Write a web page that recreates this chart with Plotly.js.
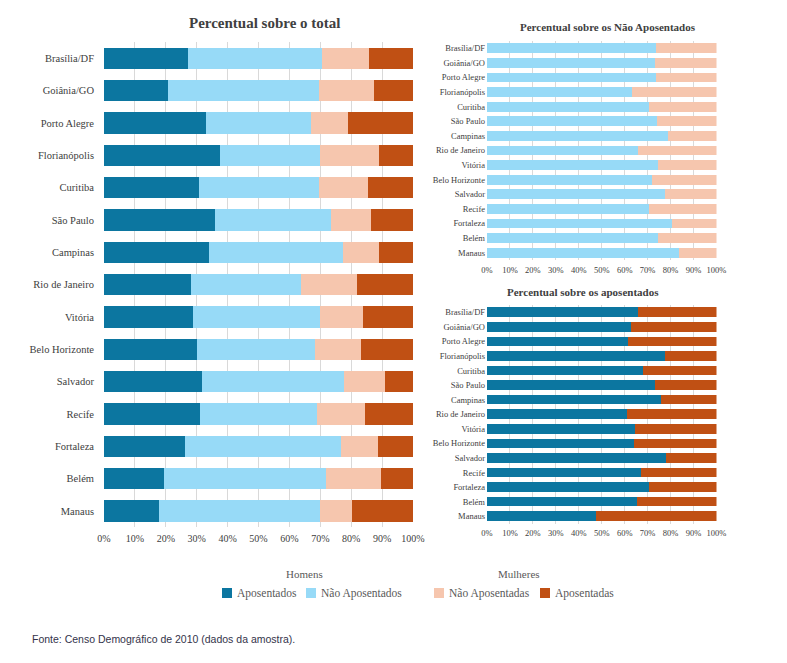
<!DOCTYPE html>
<html>
<head>
<meta charset="utf-8">
<script src="https://cdn.plot.ly/plotly-3.0.1.min.js"></script>
<style>
  html, body { margin: 0; padding: 0; background: #ffffff; }
  #chart { width: 787px; height: 663px; }
</style>
</head>
<body>
<div id="chart"></div>
<script>
(function () {
  "use strict";

  var CITIES = ["Brasília/DF", "Goiânia/GO", "Porto Alegre", "Florianópolis", "Curitiba", "São Paulo",
    "Campinas", "Rio de Janeiro", "Vitória", "Belo Horizonte", "Salvador", "Recife", "Fortaleza", "Belém", "Manaus"];

  // share of total (%), per city
  var HOM_APOS = [27.1, 20.6, 33.1, 37.5, 30.9, 36.0, 34.0, 28.3, 28.7, 30.1, 31.7, 31.1, 26.3, 19.4, 17.7];
  var HOM_NAO = [43.3, 49.1, 33.9, 32.4, 38.7, 37.4, 43.5, 35.5, 41.2, 38.2, 45.9, 37.7, 50.5, 52.3, 52.2];
  var MUL_NAO = [15.4, 17.8, 12.1, 19.0, 15.9, 13.1, 11.5, 18.1, 14.0, 14.9, 13.3, 15.8, 12.0, 17.9, 10.5];
  var MUL_APOS = [14.2, 12.5, 20.9, 11.1, 14.5, 13.5, 11.0, 18.1, 16.1, 16.8, 9.1, 15.4, 11.2, 10.4, 19.6];

  // share among the non-retired (%): men / women
  var NAO_HOM = [73.5, 73.2, 73.5, 63.2, 70.7, 74.1, 79.0, 65.8, 74.6, 71.9, 77.5, 70.7, 80.7, 74.6, 83.6];
  var NAO_MUL = [26.5, 26.8, 26.5, 36.8, 29.3, 25.9, 21.0, 34.2, 25.4, 28.1, 22.5, 29.3, 19.3, 25.4, 16.4];

  // share among the retired (%): men / women
  var APOS_HOM = [66.0, 62.8, 61.3, 77.6, 68.0, 73.0, 75.7, 61.0, 64.4, 64.0, 77.9, 67.0, 70.5, 65.4, 47.4];
  var APOS_MUL = [34.0, 37.2, 38.7, 22.4, 32.0, 27.0, 24.3, 39.0, 35.6, 36.0, 22.1, 33.0, 29.5, 34.6, 52.6];

  var TICKS = [0, 10, 20, 30, 40, 50, 60, 70, 80, 90, 100];
  var TICK_TEXT = TICKS.map(function (t) { return t + "%"; });

  // legend: group label, then entries [label, colour]
  var LEG_GROUPS = ["Homens", "Mulheres"];
  var LEG_ITEMS = [["Aposentados", "Não Aposentados"], ["Não Aposentadas", "Aposentadas"]];

  var C_APOS = "#0c76a0", C_NAO = "#97daf7", C_NAO_F = "#f6c6ae", C_APOS_F = "#c05014";
  var LEG_COLORS = [[C_APOS, C_NAO], [C_NAO_F, C_APOS_F]];
  var SERIF = "Liberation Serif, DejaVu Serif, serif";
  var INK = "#404040", GRID = "#d9d9d9", LEG_INK = "#595959";

  function bar(name, vals, color, xa, ya) {
    return {
      type: "bar", orientation: "h", name: name, x: vals, y: CITIES,
      xaxis: xa, yaxis: ya, marker: { color: color, line: { width: 0 } },
      showlegend: false,
      hovertemplate: "%{y}: %{x:.1f}%<extra>" + name + "</extra>"
    };
  }

  var traces = [
    bar("Aposentados", HOM_APOS, C_APOS, "x", "y"),
    bar("Não Aposentados", HOM_NAO, C_NAO, "x", "y"),
    bar("Não Aposentadas", MUL_NAO, C_NAO_F, "x", "y"),
    bar("Aposentadas", MUL_APOS, C_APOS_F, "x", "y"),
    bar("Não Aposentados", NAO_HOM, C_NAO, "x2", "y2"),
    bar("Não Aposentadas", NAO_MUL, C_NAO_F, "x2", "y2"),
    bar("Aposentados", APOS_HOM, C_APOS, "x3", "y3"),
    bar("Aposentadas", APOS_MUL, C_APOS_F, "x3", "y3")
  ];

  function xax(domain, size, anchor, standoff) {
    return {
      domain: domain, anchor: anchor, range: [0, 100], tickvals: TICKS, ticktext: TICK_TEXT,
      showgrid: true, gridcolor: GRID, gridwidth: 1, zeroline: false, showline: false,
      ticks: "", ticklabelstandoff: standoff,
      tickfont: { family: SERIF, size: size, color: INK }, automargin: false, fixedrange: true
    };
  }
  function yax(domain, size, anchor, standoff) {
    return {
      domain: domain, anchor: anchor, autorange: "reversed", type: "category",
      showgrid: false, zeroline: false, showline: false, ticks: "", ticklabelstandoff: standoff,
      tickfont: { family: SERIF, size: size, color: INK }, automargin: false, fixedrange: true
    };
  }

  var W = 787, H = 663;
  function px(x) { return x / W; }
  function py(y) { return 1 - y / H; }

  function note(text, x, y, font, xanchor) {
    return { text: text, x: px(x), y: py(y), xref: "paper", yref: "paper", showarrow: false,
      xanchor: xanchor || "center", yanchor: "middle", font: font };
  }
  function titleFont(s) { return { family: SERIF, size: s, color: INK, weight: "bold" }; }
  var legFont = { family: SERIF, size: 11.5, color: LEG_INK };

  var annotations = [
    note("Percentual sobre o total", 265, 23, titleFont(15)),
    note("Percentual sobre os Não Aposentados", 608, 27, titleFont(11)),
    note("Percentual sobre os aposentados", 583, 292, titleFont(11)),
    note("Fonte: Censo Demográfico de 2010 (dados da amostra).", 30, 639,
      { family: "Liberation Sans, Arial, sans-serif", size: 10.5, color: "#33334a" }, "left")
  ];
  var shapes = [];

  // hand-built legend: two groups, each with a caption and swatch + label entries
  var GROUP_CAPTION_X = [304, 519];
  var ITEM_X = [[222, 306], [434, 540]];
  LEG_GROUPS.forEach(function (g, gi) {
    annotations.push(note(g, GROUP_CAPTION_X[gi], 574, { family: SERIF, size: 11, color: LEG_INK }));
    LEG_ITEMS[gi].forEach(function (label, ii) {
      var x0 = ITEM_X[gi][ii];
      shapes.push({ type: "rect", xref: "paper", yref: "paper",
        x0: px(x0), x1: px(x0 + 10), y0: py(598), y1: py(588),
        fillcolor: LEG_COLORS[gi][ii], line: { width: 0 } });
      annotations.push(note(label, x0 + 13, 593, legFont, "left"));
    });
  });

  var layout = {
    width: W, height: H,
    margin: { l: 0, r: 0, t: 0, b: 0 },
    paper_bgcolor: "#ffffff", plot_bgcolor: "#ffffff",
    barmode: "stack", bargap: 0.34, showlegend: false,
    font: { family: SERIF, color: INK },
    xaxis: xax([px(104), px(413)], 10, "y", 4),
    yaxis: yax([py(527), py(42)], 10.5, "x", 9),
    xaxis2: xax([px(487), px(716.5)], 8.5, "y2", 3),
    yaxis2: yax([py(260), py(41)], 8.5, "x2", 1),
    xaxis3: xax([px(487), px(716.5)], 8.5, "y3", 3),
    yaxis3: yax([py(523.5), py(305)], 8.5, "x3", 1),
    annotations: annotations,
    shapes: shapes
  };

  Plotly.newPlot("chart", traces, layout, { displayModeBar: false, staticPlot: true });
})();
</script>
</body>
</html>
